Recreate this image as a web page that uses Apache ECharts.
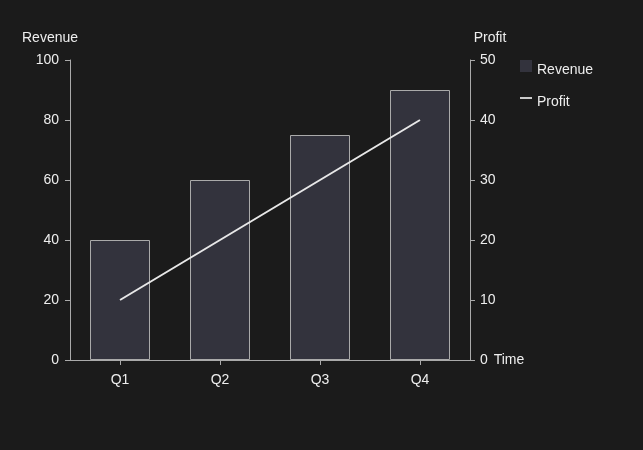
<!DOCTYPE html>
<html>
<head>
<meta charset="utf-8">
<script src="https://cdn.jsdelivr.net/npm/echarts@6/dist/echarts.min.js"></script>
<style>
  html, body { margin: 0; padding: 0; background: #1b1b1b; }
  #chart { width: 643px; height: 450px; }
</style>
</head>
<body>
<div id="chart"></div>
<script>
// Quarterly revenue (bars, left axis) and profit (line, right axis)
const quarters = ['Q1', 'Q2', 'Q3', 'Q4'];
const revenue = [40, 60, 75, 90];
const profit = [10, 20, 30, 40];

const textColor = '#eeeeee';
const axisColor = '#aaaaaa';
const barFill = '#33333d';
const lineColor = '#e8e8e8';
const font = 'Liberation Sans, Arial, sans-serif';
const fontSize = 14;

const chart = echarts.init(document.getElementById('chart'), null, { renderer: 'canvas' });

const labelStyle = (margin) => ({ color: textColor, fontSize: fontSize, fontFamily: font, margin: margin });

chart.setOption({
  backgroundColor: '#1b1b1b',
  animation: false,
  textStyle: { fontFamily: font },
  grid: { left: 70, right: 173, top: 60, bottom: 90, containLabel: false },
  legend: {
    orient: 'vertical',
    left: 520,
    top: 60,
    padding: 0,
    itemWidth: 12,
    itemHeight: 12,
    itemGap: 18,
    formatter: '{t|{name}}',
    textStyle: {
      color: textColor, fontSize: fontSize, fontFamily: font,
      // labels sit a little below their icons
      rich: { t: { color: textColor, fontSize: fontSize, fontFamily: font, padding: [8, 0, 0, 0] } }
    },
    data: [
      { name: 'Revenue', icon: 'rect', itemStyle: { color: barFill, borderWidth: 0 } },
      { name: 'Profit', icon: 'path://M0,0 L14,0 L14,2 L0,2 Z', itemStyle: { color: lineColor, borderWidth: 0 } }
    ]
  },
  xAxis: {
    type: 'category',
    data: quarters,
    name: 'Time',
    nameLocation: 'end',
    nameGap: 19,
    nameTextStyle: { color: textColor, fontSize: fontSize, fontFamily: font },
    axisLine: { show: true, lineStyle: { color: axisColor, width: 1 } },
    axisTick: { show: true, length: 5, alignWithLabel: true, lineStyle: { color: axisColor } },
    axisLabel: labelStyle(13),
    splitLine: { show: false }
  },
  yAxis: [
    {
      type: 'value',
      name: 'Revenue',
      min: 0, max: 100, interval: 20,
      position: 'left',
      axisLine: { show: true, lineStyle: { color: axisColor, width: 1 } },
      axisTick: { show: true, length: 5, lineStyle: { color: axisColor } },
      axisLabel: labelStyle(11),
      splitLine: { show: false },
      nameTextStyle: { color: textColor, fontSize: fontSize, fontFamily: font, padding: [0, 40, 0, 0] }
    },
    {
      type: 'value',
      name: 'Profit',
      min: 0, max: 50, interval: 10,
      position: 'right',
      axisLine: { show: true, lineStyle: { color: axisColor, width: 1 } },
      axisTick: { show: true, length: 5, lineStyle: { color: axisColor } },
      axisLabel: labelStyle(10),
      splitLine: { show: false },
      nameTextStyle: { color: textColor, fontSize: fontSize, fontFamily: font, padding: [0, 0, 0, 40] }
    }
  ],
  series: [
    {
      name: 'Revenue',
      type: 'bar',
      yAxisIndex: 0,
      data: revenue,
      barWidth: '60%',
      itemStyle: { color: barFill, borderColor: axisColor, borderWidth: 1 }
    },
    {
      name: 'Profit',
      type: 'line',
      yAxisIndex: 1,
      data: profit,
      symbol: 'none',
      showSymbol: false,
      lineStyle: { color: lineColor, width: 2 },
      itemStyle: { color: lineColor }
    }
  ]
});
</script>
</body>
</html>
